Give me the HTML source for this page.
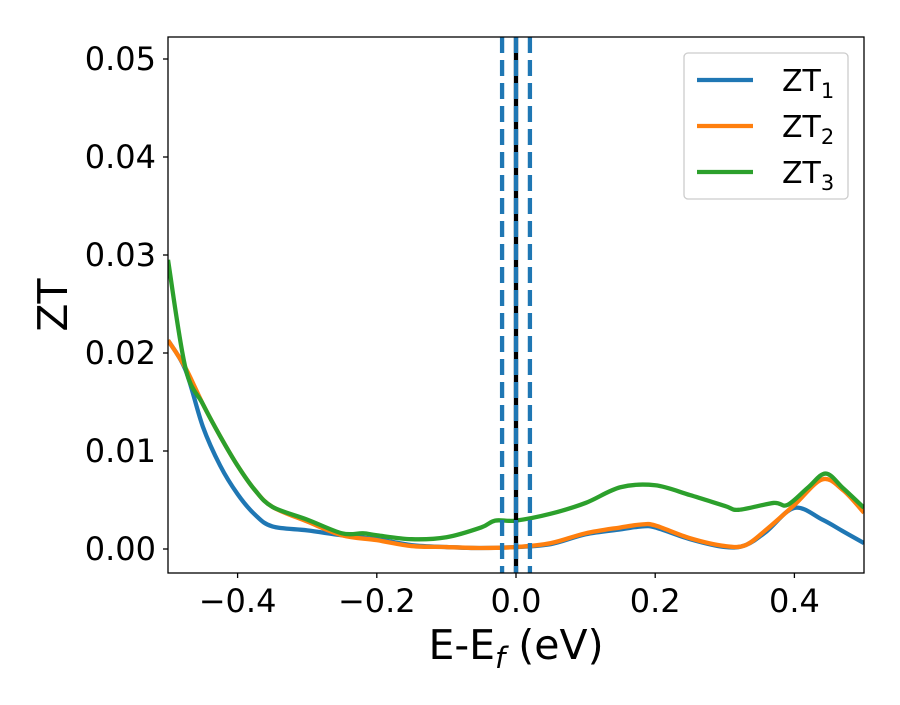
<!DOCTYPE html>
<html><head><meta charset="utf-8"><style>
body{margin:0;background:#fff;font-family:"Liberation Sans","DejaVu Sans",sans-serif}
svg text{font-family:"DejaVu Sans","Liberation Sans",sans-serif}
</style></head><body>
<svg id="chart" width="900" height="700" xmlns="http://www.w3.org/2000/svg">
<g id="plot"></g>
</svg>
<script>
const xTicks=[-0.4,-0.2,0.0,0.2,0.4];
const xTickLabels=["\u22120.4","\u22120.2","0.0","0.2","0.4"];
const yTicks=[0,0.01,0.02,0.03,0.04,0.05];
const yTickLabels=["0.00","0.01","0.02","0.03","0.04","0.05"];
const vLinesDashed=[-0.02,0.0,0.02];
const vLineSolid=0.0;
const xs1=[-0.5,-0.475,-0.45,-0.425,-0.4,-0.375,-0.35,-0.3,-0.25,-0.2,-0.15,-0.1,-0.05,0,0.05,0.1,0.15,0.18,0.2,0.25,0.3,0.33,0.36,0.4,0.44,0.47,0.5];
const zt1=[0.0213,0.0183,0.0125,0.0085,0.0056,0.0035,0.0023,0.0019,0.0014,0.001,0.0004,0.0002,0.0001,0.0002,0.0005,0.0015,0.002,0.0023,0.0022,0.001,0.0002,0.0004,0.0018,0.0042,0.003,0.0018,0.0006];
const xs2=[-0.5,-0.475,-0.45,-0.425,-0.4,-0.375,-0.35,-0.3,-0.25,-0.2,-0.15,-0.1,-0.05,0,0.05,0.1,0.15,0.18,0.2,0.25,0.3,0.33,0.36,0.4,0.44,0.47,0.5];
const zt2=[0.0213,0.0185,0.0148,0.0115,0.0085,0.006,0.0043,0.0028,0.0014,0.0009,0.0003,0.0002,0.0001,0.0002,0.0006,0.0016,0.0022,0.0025,0.0024,0.0011,0.0003,0.0004,0.002,0.0045,0.0071,0.006,0.0037];
const xs3=[-0.5,-0.475,-0.45,-0.425,-0.4,-0.375,-0.35,-0.3,-0.25,-0.22,-0.2,-0.15,-0.1,-0.05,-0.03,0,0.05,0.1,0.15,0.2,0.25,0.3,0.32,0.37,0.39,0.42,0.445,0.47,0.5];
const zt3=[0.0295,0.0185,0.0148,0.0115,0.0085,0.006,0.0043,0.003,0.0016,0.0016,0.0014,0.001,0.0012,0.0022,0.0029,0.0029,0.0036,0.0047,0.0063,0.0065,0.0055,0.0044,0.004,0.0047,0.0045,0.0063,0.0077,0.0062,0.0042];

const L=168,R=864,T=37,B=573,xmin=-0.5,xmax=0.5,y0px=549,pxPer=9800;
const X=v=>L+(v-xmin)/(xmax-xmin)*(R-L);
const Y=v=>y0px-v*pxPer;
const NS="http://www.w3.org/2000/svg";
const g=document.getElementById('plot');
function mk(t,a,p){const e=document.createElementNS(NS,t);for(const k in a)e.setAttribute(k,a[k]);(p||g).appendChild(e);return e;}
function smooth(xs,ys){const P=xs.map((x,i)=>[X(x),Y(ys[i])]);let d=`M${P[0][0]},${P[0][1]}`;
for(let i=0;i<P.length-1;i++){const p0=P[i-1]||P[i],p1=P[i],p2=P[i+1],p3=P[i+2]||p2;
d+=` C${p1[0]+(p2[0]-p0[0])/6},${p1[1]+(p2[1]-p0[1])/6} ${p2[0]-(p3[0]-p1[0])/6},${p2[1]-(p3[1]-p1[1])/6} ${p2[0]},${p2[1]}`;}return d;}
const cp=mk('clipPath',{id:'cp'});mk('rect',{x:L,y:T,width:R-L,height:B-T},cp);
const series=[[xs1,zt1,'#1f77b4','zt1-line'],[xs2,zt2,'#ff7f0e','zt2-line'],[xs3,zt3,'#2ca02c','zt3-line']];
series.forEach(s=>{const p=mk('path',{d:smooth(s[0],s[1]),fill:'none',stroke:s[2],'stroke-width':4.3,'clip-path':'url(#cp)'});

});
const sl=mk('line',{x1:X(vLineSolid),x2:X(vLineSolid),y1:T,y2:B,stroke:'#000','stroke-width':4.3});


vLinesDashed.forEach(v=>{const l=mk('line',{x1:X(v),x2:X(v),y1:T,y2:B,stroke:'#1f77b4','stroke-width':4.3,'stroke-dasharray':'16 7'});

});
const fr=mk('rect',{x:L,y:T,width:R-L,height:B-T,fill:'none',stroke:'#000','stroke-width':1.3});


xTicks.forEach((v,i)=>{mk('line',{x1:X(v),x2:X(v),y1:B,y2:B+5,stroke:'#000','stroke-width':1.3});
const t=mk('text',{x:X(v),y:B+39,'font-size':32,'text-anchor':'middle'});t.textContent=xTickLabels[i];

});
yTicks.forEach((v,i)=>{mk('line',{x1:L-5,x2:L,y1:Y(v),y2:Y(v),stroke:'#000','stroke-width':1.3});
const t=mk('text',{x:L-12,y:Y(v)+11,'font-size':32,'text-anchor':'end'});t.textContent=yTickLabels[i];

});
const xt=mk('text',{x:516,y:659,'font-size':41,'text-anchor':'middle'});
xt.innerHTML='E-E<tspan font-size="29" dy="9" font-style="italic">f</tspan><tspan dy="-9"> (eV)</tspan>';


const yt=mk('text',{x:67,y:305,'font-size':41,'text-anchor':'middle',transform:'rotate(-90 67 305)'});yt.textContent='ZT';


const lg=mk('g',{});


mk('rect',{x:684,y:53,width:164,height:146,rx:4,fill:'#fff',stroke:'#ccc','stroke-width':1.3},lg);
series.forEach((s,i)=>{const y=80+i*46;
mk('line',{x1:697,x2:753,y1:y,y2:y,stroke:s[2],'stroke-width':4.3},lg);
const t=mk('text',{x:782,y:y+11,'font-size':30},lg);t.innerHTML=`ZT<tspan font-size="21" dy="7">${i+1}</tspan>`;

});
</script>
</body></html>
